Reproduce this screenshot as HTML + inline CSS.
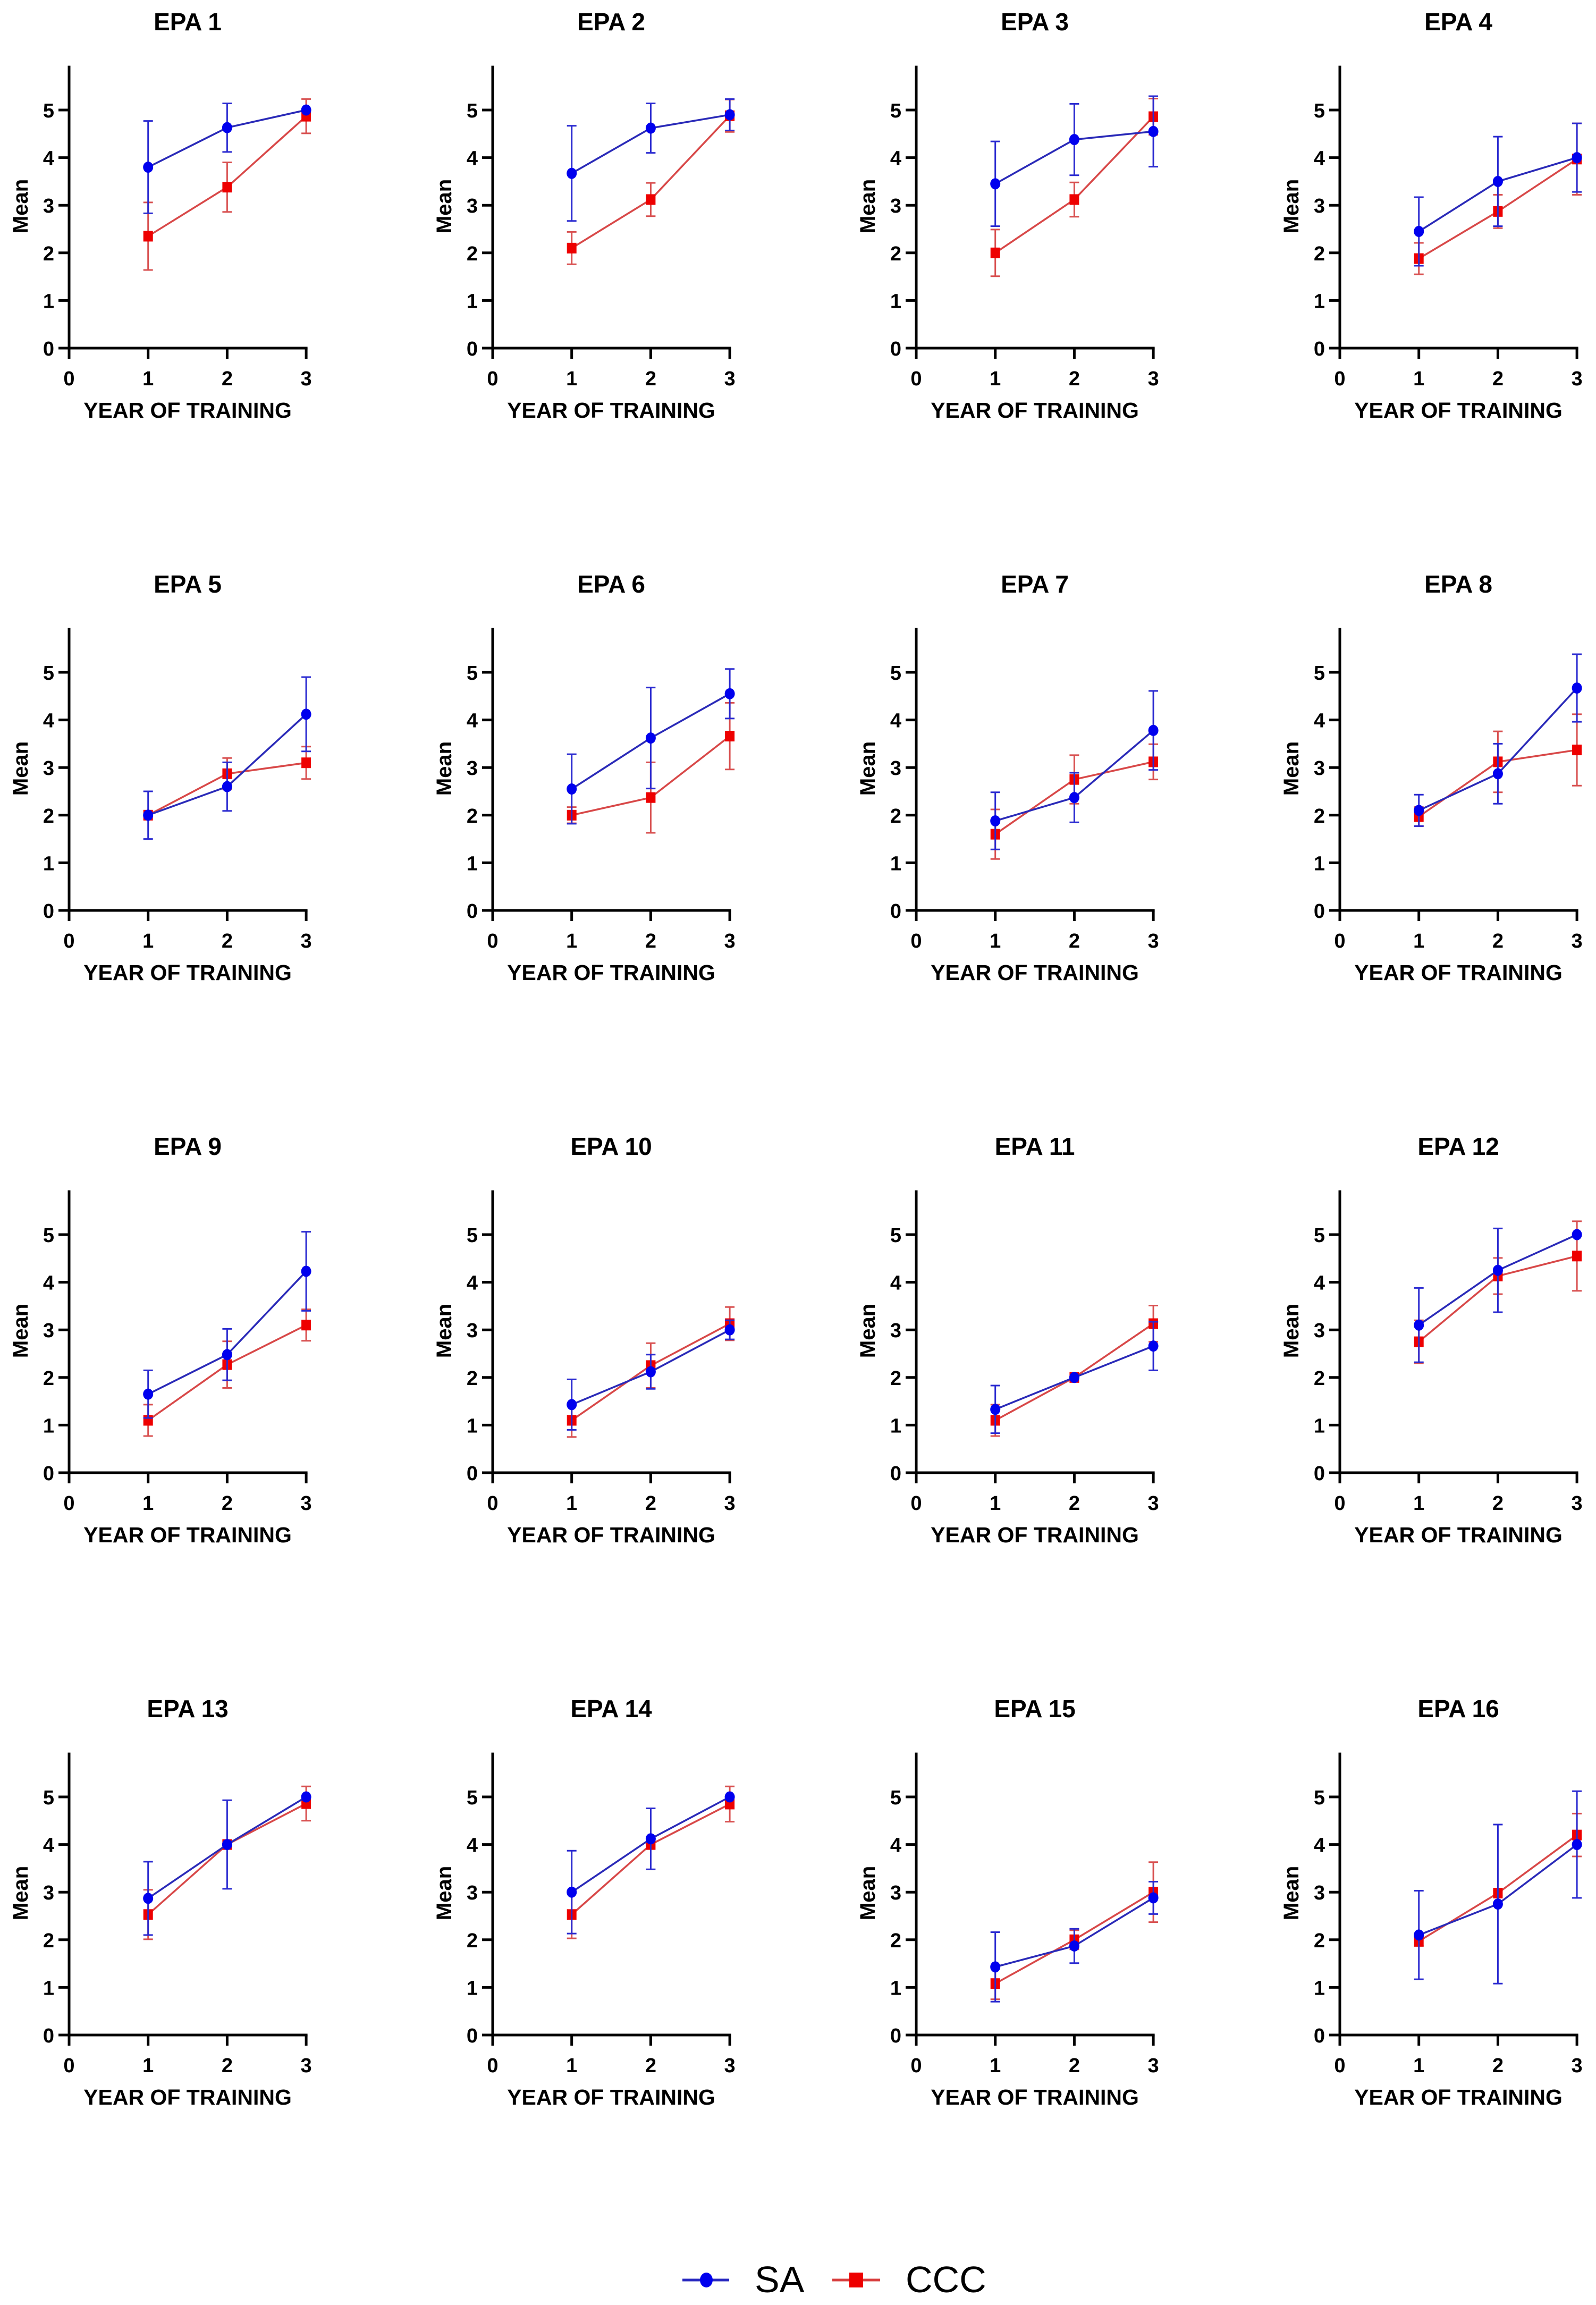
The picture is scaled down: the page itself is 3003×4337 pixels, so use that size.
<!DOCTYPE html>
<html><head><meta charset="utf-8">
<style>
html,body{margin:0;padding:0;background:#fff;}
svg{display:block;font-family:"Liberation Sans",Arial,sans-serif;}
</style></head>
<body>
<svg id="chart" width="3003" height="4337" viewBox="0 0 3003 4337" xmlns="http://www.w3.org/2000/svg">
<g id="panels"></g>
<g id="legend">
  <g>
    <line x1="1284" y1="4290" x2="1372" y2="4290" stroke="#2a2ac0" stroke-width="5"/>
    <ellipse cx="1329" cy="4290" rx="12" ry="14" fill="#0000ee"/>
    <text x="1420" y="4313" font-size="70" fill="#000">SA</text>
  </g>
  <g>
    <line x1="1566" y1="4290" x2="1656" y2="4290" stroke="#d84040" stroke-width="5"/>
    <rect x="1598" y="4276" width="26" height="28" fill="#ee0000"/>
    <text x="1704" y="4313" font-size="70" fill="#000">CCC</text>
  </g>
</g>
</svg>
<script>
// Data per panel (EPA 1..16), years 1..3
const titles = ["EPA 1","EPA 2","EPA 3","EPA 4","EPA 5","EPA 6","EPA 7","EPA 8","EPA 9","EPA 10","EPA 11","EPA 12","EPA 13","EPA 14","EPA 15","EPA 16"];
const years = [1,2,3];
const xTicks = [0,1,2,3];
const yTicks = [0,1,2,3,4,5];
const saMean = [[3.8,4.63,5.0],[3.67,4.62,4.9],[3.45,4.38,4.55],[2.45,3.5,4.0],
                [2.0,2.6,4.12],[2.55,3.62,4.55],[1.88,2.37,3.78],[2.1,2.87,4.67],
                [1.65,2.48,4.23],[1.43,2.12,3.0],[1.33,2.0,2.66],[3.1,4.25,5.0],
                [2.87,4.0,5.0],[3.0,4.12,5.0],[1.43,1.87,2.88],[2.1,2.75,4.0]];
const saErr = [[0.97,0.51,0.0],[1.0,0.52,0.33],[0.89,0.75,0.74],[0.72,0.94,0.72],
               [0.5,0.51,0.78],[0.73,1.06,0.52],[0.6,0.52,0.83],[0.33,0.63,0.71],
               [0.5,0.54,0.83],[0.53,0.36,0.2],[0.5,0.0,0.51],[0.78,0.88,0.0],
               [0.77,0.93,0.0],[0.87,0.64,0.0],[0.73,0.36,0.34],[0.93,1.67,1.12]];
const cccMean = [[2.35,3.38,4.87],[2.1,3.12,4.88],[2.0,3.12,4.86],[1.88,2.87,3.97],
                 [2.0,2.87,3.1],[2.0,2.37,3.66],[1.6,2.75,3.12],[1.97,3.12,3.37],
                 [1.1,2.27,3.1],[1.1,2.25,3.13],[1.1,2.0,3.13],[2.75,4.13,4.55],
                 [2.53,4.0,4.86],[2.53,4.0,4.85],[1.08,2.0,3.0],[1.97,2.98,4.2]];
const cccErr = [[0.71,0.52,0.36],[0.34,0.35,0.34],[0.49,0.36,0.38],[0.33,0.35,0.75],
                [0.0,0.33,0.34],[0.17,0.74,0.7],[0.52,0.51,0.37],[0.2,0.64,0.75],
                [0.33,0.49,0.33],[0.35,0.47,0.35],[0.33,0.0,0.38],[0.45,0.38,0.73],
                [0.52,0.0,0.36],[0.5,0.0,0.37],[0.33,0.2,0.63],[0.1,0.05,0.45]];

const NS = "http://www.w3.org/2000/svg";
const root = document.getElementById("panels");
function mk(tag, attrs, parent){
  const e = document.createElementNS(NS, tag);
  for (const k in attrs) e.setAttribute(k, attrs[k]);
  parent.appendChild(e);
  return e;
}
const UX = 148.7, UY = 89.6;

titles.forEach((t, i) => {
  const c = i % 4, r = Math.floor(i / 4);
  const X0 = 130 + c * 797, Y0 = 655 + r * 1058;
  const sx = v => X0 + v * UX;
  const sy = v => Y0 - v * UY;
  const g = mk("g", {}, root);
  
  

  const title = mk("text", {x: sx(1.5), y: Y0 - 598, "font-size": 46, "font-weight": "bold", "text-anchor": "middle"}, g);
  title.textContent = t;
  
  

  const ya = mk("line", {x1: X0, y1: sy(5.93), x2: X0, y2: Y0 + 20, stroke: "#000", "stroke-width": 5}, g);
  
  
  const xa = mk("line", {x1: X0 - 20, y1: Y0, x2: sx(3) + 2.5, y2: Y0, stroke: "#000", "stroke-width": 5}, g);
  
  

  yTicks.forEach(v => {
    mk("line", {x1: X0 - 20, y1: sy(v), x2: X0, y2: sy(v), stroke: "#000", "stroke-width": 5}, g);
    const tl = mk("text", {x: X0 - 28, y: sy(v) + 14, "font-size": 38, "font-weight": "bold", "text-anchor": "end"}, g);
    tl.textContent = v;
    
    
  });
  xTicks.forEach(v => {
    mk("line", {x1: sx(v), y1: Y0, x2: sx(v), y2: Y0 + 20, stroke: "#000", "stroke-width": 5}, g);
    const tl = mk("text", {x: sx(v), y: Y0 + 70, "font-size": 38, "font-weight": "bold", "text-anchor": "middle"}, g);
    tl.textContent = v;
    
    
  });

  const xt = mk("text", {x: sx(1.5), y: Y0 + 131, "font-size": 41, "font-weight": "bold", "text-anchor": "middle"}, g);
  xt.textContent = "YEAR OF TRAINING";
  
  
  const yt = mk("text", {x: 0, y: 0, "font-size": 40, "font-weight": "bold", "text-anchor": "middle",
    transform: "translate(" + (X0 - 78) + "," + sy(2.98) + ") rotate(-90)"}, g);
  yt.textContent = "Mean";
  
  

  const series = [
    {name: "ccc", mean: cccMean[i], err: cccErr[i], line: "#d84848", bar: "#d85050", fill: "#ee0000", sq: true},
    {name: "sa", mean: saMean[i], err: saErr[i], line: "#2a2ab8", bar: "#2a2ad0", fill: "#0000ee", sq: false}
  ];
  series.forEach(s => {
    const sg = mk("g", {}, g);
    
    
    years.forEach((yr, k) => {
      const e = s.err[k];
      if (e <= 0) return;
      const x = sx(yr), y1 = sy(s.mean[k] + e), y2 = sy(s.mean[k] - e);
      const eb = mk("path", {d: "M" + x + " " + y1 + "V" + y2 + "M" + (x - 9) + " " + y1 + "H" + (x + 9) + "M" + (x - 9) + " " + y2 + "H" + (x + 9),
        stroke: s.bar, "stroke-width": 3, fill: "none"}, sg);
      
      
    });
    const pts = years.map((yr, k) => sx(yr) + "," + sy(s.mean[k])).join(" ");
    const pl = mk("polyline", {points: pts, fill: "none", stroke: s.line, "stroke-width": 3.5}, sg);
    
    
    years.forEach((yr, k) => {
      let m;
      if (s.sq) m = mk("rect", {x: sx(yr) - 9, y: sy(s.mean[k]) - 10, width: 18, height: 20, fill: s.fill}, sg);
      else m = mk("ellipse", {cx: sx(yr), cy: sy(s.mean[k]), rx: 9.5, ry: 10.5, fill: s.fill}, sg);
      
      
    });
  });
});
</script>
</body></html>
